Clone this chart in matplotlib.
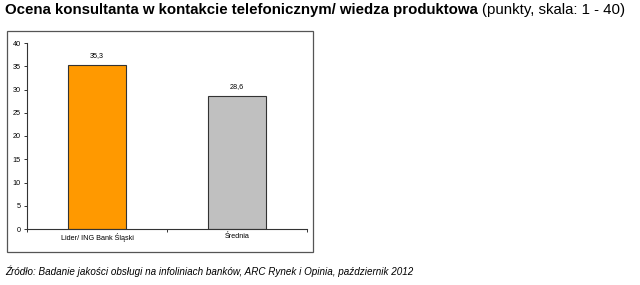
import matplotlib
matplotlib.use("Agg")
import matplotlib.pyplot as plt
from matplotlib.patches import Rectangle

categories = ["Lider/ ING Bank Śląski", "Średnia"]
values = [35.3, 28.6]
value_labels = ["35,3", "28,6"]
colors = ["#FF9900", "#C0C0C0"]
yticks = [0, 5, 10, 15, 20, 25, 30, 35, 40]

plt.rcParams['font.family'] = ['Liberation Sans', 'DejaVu Sans']

fig = plt.figure(figsize=(6.4, 2.85), dpi=100)
fig.patch.set_facecolor("white")

# outer frame
fig.patches.append(Rectangle((7/640, 1-252/285), (313-7)/640, (252-31)/285,
                             transform=fig.transFigure, fill=False,
                             edgecolor="#555555", linewidth=0.9))

ax = fig.add_axes([27/640, 1-229/285, 280/640, (229-43)/285])
x = list(range(len(categories)))
ax.bar(x, values, width=0.41, color=colors, edgecolor="#333333", linewidth=0.8)
for xi, v, lab in zip(x, values, value_labels):
    ax.text(xi, v + 1.3, lab, ha="center", va="bottom", fontsize=5.2)

ax.set_xlim(-0.5, 1.5)
ax.set_ylim(0, 40)
ax.set_yticks(yticks)
ax.set_yticklabels([str(t) for t in yticks], fontsize=5.2)
ax.set_xticks([-0.5, 0.5, 1.5])
ax.set_xticklabels([])
ax.set_xticks(x, minor=True)
ax.set_xticklabels(categories, minor=True, fontsize=5.2)
ax.tick_params(axis="x", which="minor", length=0, pad=3)
ax.tick_params(axis="x", which="major", length=2.5, width=0.7, color="#333333")
ax.tick_params(axis="y", length=2.5, width=0.7, color="#333333", pad=2)
for s in ["top", "right"]:
    ax.spines[s].set_visible(False)
for s in ["left", "bottom"]:
    ax.spines[s].set_linewidth(0.8)
    ax.spines[s].set_color("#333333")

title_size = 10.8
t1 = fig.text(5/640, 1-10/285, "Ocena konsultanta w kontakcie telefonicznym/ wiedza produktowa",
              fontsize=title_size, fontweight="bold", va="center", ha="left")
fig.canvas.draw()
bb = t1.get_window_extent()
fig.text(bb.x1/640 + 4/640, 1-10/285, "(punkty, skala: 1 - 40)", fontsize=title_size,
         va="center", ha="left")

fig.text(5/640, 1-271/285,
         "Źródło: Badanie jakości obsługi na infoliniach banków, ARC Rynek i Opinia, październik 2012",
         fontsize=7.1, style="italic", va="center", ha="left")

fig.savefig("out.png", dpi=100)
